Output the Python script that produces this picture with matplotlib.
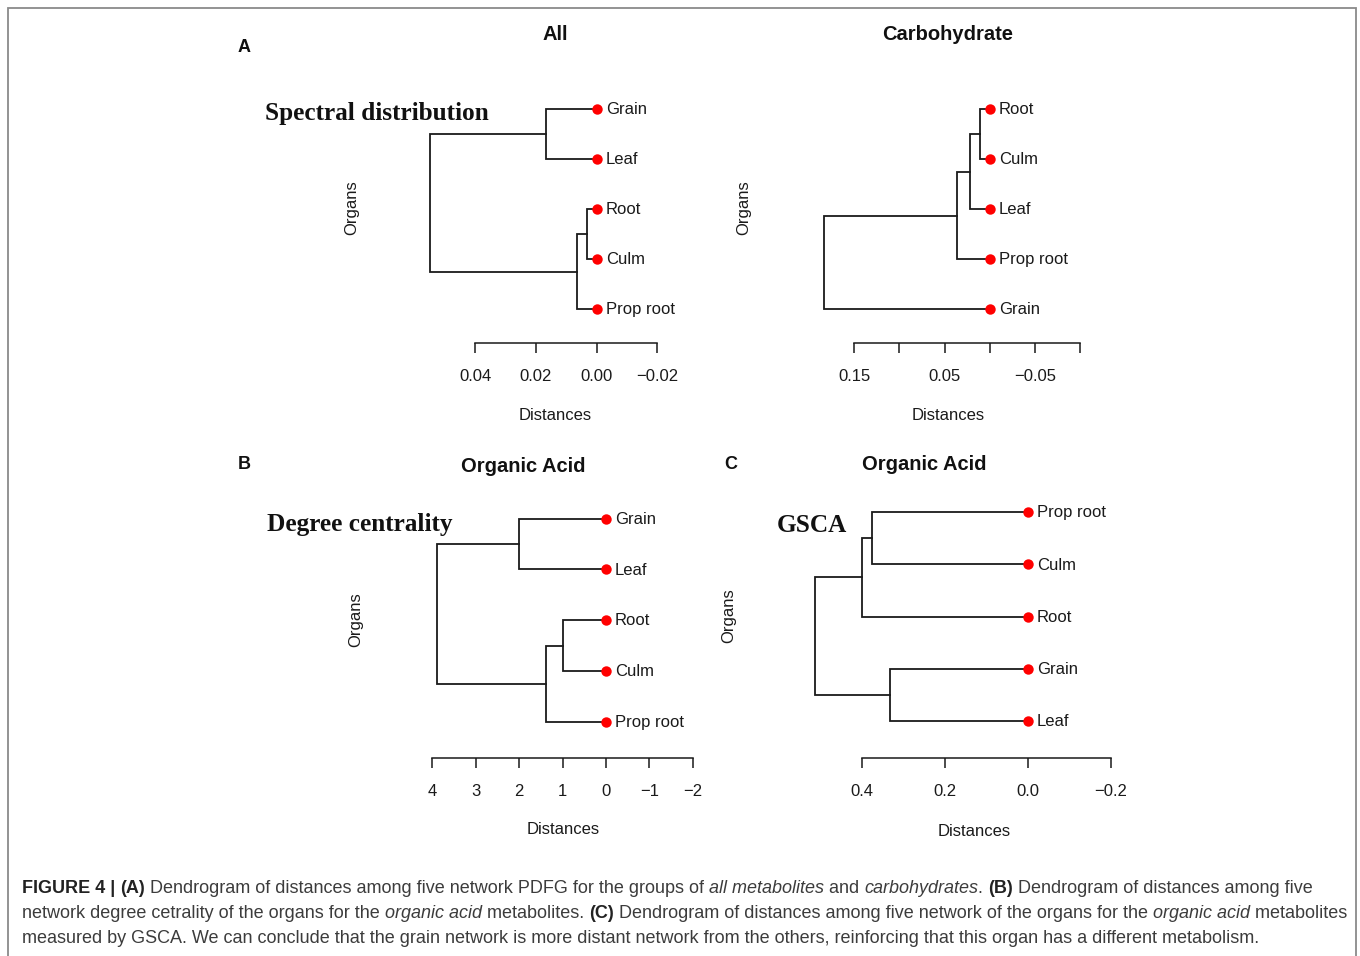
import matplotlib
matplotlib.use("Agg")
import matplotlib.pyplot as plt
from matplotlib.patches import Rectangle

W, H = 1360, 956
SANS = "Liberation Sans"
SERIF = "Liberation Serif"
INK = "#1a1a1a"

# ---- data ----
all_leaves = ["Grain", "Leaf", "Root", "Culm", "Prop root"]
all_merges = [(0, 1), (2, 3), (6, 4), (5, 7)]
all_heights = [0.0167, 0.0032, 0.0066, 0.0550]
all_ticks = [0.04, 0.02, 0.00, -0.02]
all_ticklabels = ["0.04", "0.02", "0.00", "\u22120.02"]

carb_leaves = ["Root", "Culm", "Leaf", "Prop root", "Grain"]
carb_merges = [(0, 1), (5, 2), (6, 3), (7, 4)]
carb_heights = [0.011, 0.022, 0.036, 0.184]
carb_ticks = [0.15, 0.10, 0.05, 0.00, -0.05, -0.10]
carb_ticklabels = ["0.15", "", "0.05", "", "\u22120.05", ""]

deg_leaves = ["Grain", "Leaf", "Root", "Culm", "Prop root"]
deg_merges = [(0, 1), (2, 3), (6, 4), (5, 7)]
deg_heights = [2.01, 0.99, 1.38, 3.90]
deg_ticks = [4, 3, 2, 1, 0, -1, -2]
deg_ticklabels = ["4", "3", "2", "1", "0", "\u22121", "\u22122"]

gsca_leaves = ["Prop root", "Culm", "Root", "Grain", "Leaf"]
gsca_merges = [(0, 1), (5, 2), (3, 4), (6, 7)]
gsca_heights = [0.3745, 0.400, 0.331, 0.5125]
gsca_ticks = [0.4, 0.2, 0.0, -0.2]
gsca_ticklabels = ["0.4", "0.2", "0.0", "\u22120.2"]

fig = plt.figure(figsize=(W / 100, H / 100), dpi=100)


def fx(x):
    return x / W


def fy(y):
    return 1 - y / H


def make_ax(x0, x1, axis_y, leaf0, step, ticks, ticklabels):
    # x0/x1: pixel of first/last tick, axis_y: pixel of axis line
    top = leaf0 - 0.6 * step
    ax = fig.add_axes([fx(x0), fy(axis_y), (x1 - x0) / W, (axis_y - top) / H])
    ax.set_xlim(ticks[0], ticks[-1])
    ax.set_ylim((axis_y - leaf0) / step, -0.6)
    for s in ["left", "right", "top"]:
        ax.spines[s].set_visible(False)
    ax.spines["bottom"].set_linewidth(1.1)
    ax.spines["bottom"].set_color(INK)
    ax.set_yticks([])
    ax.set_xticks(ticks)
    ax.set_xticklabels(ticklabels, fontfamily=SANS, fontsize=12)
    ax.tick_params(axis="x", direction="out", length=7.2, width=1.1, pad=11, colors=INK)
    ax.patch.set_visible(False)
    return ax


def dendro(ax, leaves, merges, heights):
    n = len(leaves)
    pos = {i: (0.0, float(i)) for i in range(n)}
    for k, ((a, b), h) in enumerate(zip(merges, heights)):
        ha, ya = pos[a]
        hb, yb = pos[b]
        ax.plot([ha, h, h, hb], [ya, ya, yb, yb], color=INK, lw=1.3,
                clip_on=False, solid_joinstyle="miter")
        pos[n + k] = (h, (ya + yb) / 2)
    ax.plot([0] * n, list(range(n)), "o", color="#ff0000", ms=7.5, mec="none", clip_on=False, zorder=3)
    for i, name in enumerate(leaves):
        ax.annotate(name, (0, i), xytext=(6.5, -0.5), textcoords="offset points",
                    va="center", ha="left", fontfamily=SANS, fontsize=12, color=INK)


# panel A - All
ax = make_ax(475.3, 657.3, 343.3, 109.3, 50, all_ticks, all_ticklabels)
dendro(ax, all_leaves, all_merges, all_heights)
# panel A - Carbohydrate
ax = make_ax(854.3, 1080, 343.3, 109.3, 50, carb_ticks, carb_ticklabels)
dendro(ax, carb_leaves, carb_merges, carb_heights)
# panel B
ax = make_ax(432.3, 692.7, 758.3, 518.7, 50.75, deg_ticks, deg_ticklabels)
dendro(ax, deg_leaves, deg_merges, deg_heights)
# panel C
ax = make_ax(861.7, 1110.7, 758.3, 512.3, 52.1, gsca_ticks, gsca_ticklabels)
dendro(ax, gsca_leaves, gsca_merges, gsca_heights)

# titles, letters, axis titles
for x, y, s in [(555, 35, "All"), (948, 35, "Carbohydrate"), (523, 466, "Organic Acid"), (924, 465, "Organic Acid")]:
    fig.text(fx(x), fy(y), s, ha="center", va="center", fontfamily=SANS, fontsize=14.5, fontweight="bold", color="#111111")
for x, y, s in [(244, 48, "A"), (244, 465, "B"), (731, 465, "C")]:
    fig.text(fx(x), fy(y), s, ha="center", va="center", fontfamily=SANS, fontsize=13, fontweight="bold", color="#111111")
for x, y in [(555, 415), (948, 415), (563, 829), (974, 831)]:
    fig.text(fx(x), fy(y), "Distances", ha="center", va="center", fontfamily=SANS, fontsize=12, color=INK)
for x, y in [(351.7, 208), (744, 208), (356, 620), (729, 616)]:
    fig.text(fx(x), fy(y), "Organs", ha="center", va="center", rotation=90, fontfamily=SANS, fontsize=12, color=INK)
for x, y, s in [(265, 120, "Spectral distribution"), (267, 531, "Degree centrality"), (777, 531.5, "GSCA")]:
    fig.text(fx(x), fy(y), s, ha="left", va="baseline", fontfamily=SERIF, fontsize=18.2, fontweight="bold", color="#111111")

# frame
fig.add_artist(Rectangle((fx(8), -0.02), (1356 - 8) / W, fy(8) + 0.02, transform=fig.transFigure,
                         fill=False, edgecolor="#8a8a8a", lw=1.3))

# caption
caption_lines = [
    [("FIGURE 4 | ", "bold"), ("(A)", "bold"),
     (" Dendrogram of distances among five network PDFG for the groups of ", "normal"),
     ("all metabolites", "italic"), (" and ", "normal"), ("carbohydrates", "italic"), (". ", "normal"),
     ("(B)", "bold"), (" Dendrogram of distances among five", "normal")],
    [("network degree cetrality of the organs for the ", "normal"), ("organic acid", "italic"),
     (" metabolites. ", "normal"), ("(C)", "bold"),
     (" Dendrogram of distances among five network of the organs for the ", "normal"),
     ("organic acid", "italic"), (" metabolites", "normal")],
    [("measured by GSCA. We can conclude that the grain network is more distant network from the others, "
      "reinforcing that this organ has a different metabolism.", "normal")],
]
caption_y = [893, 918, 943]
renderer = fig.canvas.get_renderer()


def text_width(s, **kw):
    a = fig.text(0, 0, s + "|", **kw)
    b = fig.text(0, 0, "|", **kw)
    w = a.get_window_extent(renderer).width - b.get_window_extent(renderer).width
    a.remove()
    b.remove()
    return w


for line, y in zip(caption_lines, caption_y):
    x = 22
    for s, style in line:
        kw = dict(fontfamily=SANS, fontsize=13.0, va="baseline", ha="left")
        if style == "bold":
            kw["fontweight"] = "bold"
            kw["color"] = "#222222"
        else:
            kw["color"] = "#3c3c3c"
            if style == "italic":
                kw["fontstyle"] = "italic"
        fig.text(fx(x), fy(y), s, **kw)
        x += text_width(s, **kw)

fig.savefig("out.png", dpi=100)
